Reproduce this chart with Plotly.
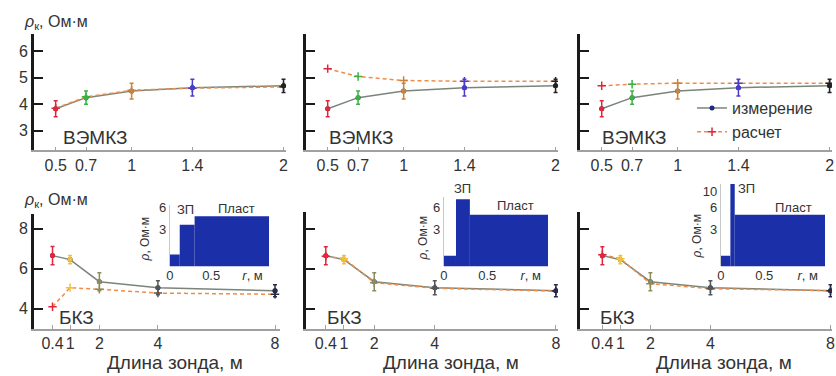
import plotly.graph_objects as go

W, H = 836, 376

# ---------------- data ----------------
top_x = [0.5, 0.7, 1, 1.4, 2]
top_ticks = ["0.5", "0.7", "1", "1.4", "2"]
top_meas = [3.83, 4.25, 4.5, 4.63, 4.7]
top_err = [0.3, 0.25, 0.3, 0.32, 0.25]
top_calc_a = [3.85, 4.28, 4.53, 4.61, 4.66]
top_calc_b = [5.35, 5.05, 4.9, 4.87, 4.87]
top_calc_c = [4.7, 4.76, 4.8, 4.8, 4.8]

bot_x = [0.4, 1, 2, 4, 8]
bot_ticks = ["0.4", "1", "2", "4", "8"]
bot_meas = [6.65, 6.45, 5.35, 5.05, 4.9]
bot_err = [0.45, 0.2, 0.45, 0.35, 0.3]
bot_calc_a = [4.1, 5.05, 4.97, 4.78, 4.72]
bot_calc_b = [6.62, 6.5, 5.3, 5.02, 4.88]
bot_calc_c = [6.7, 6.5, 5.25, 5.0, 4.9]

top_colors = ["#e0283c", "#3cb043", "#c8843c", "#4a3cc8", "#222222"]
bot_colors = ["#e0283c", "#f0c040", "#8c8c5c", "#555555", "#2a2a44"]

# inset resistivity profiles: radial edges (m) and resistivity (Ohm*m)
inset_edges = [[0, 0.12, 0.3, 1.2], [0, 0.14, 0.3, 1.2], [0, 0.11, 0.16, 1.2]]
inset_rho = [[1.35, 3.5, 4.6], [1.3, 7.9, 4.8], [1.3, 15, 4.8]]
inset_yticks = [[3, 6], [3, 6], [3, 6, 10]]

FONT = "Liberation Sans, Arial, sans-serif"
TXT = "#333333"
MEAS_LINE = "#7a857a"
CALC_LINE = "#f08c48"
BAR = "#1b2fa8"


def px(x):
    return x / W


def py(y):
    return 1 - y / H


fig = go.Figure()

# panel geometry (pixels): (left, right, top, bottom)
panels = [
    (30, 284, 30, 148), (304, 558, 30, 148), (580, 834, 30, 148),
    (30, 278, 212, 328), (304, 558, 210, 328), (580, 834, 210, 328),
]
xranges = [[0.356, 2.016]] * 3 + [[-0.24, 8.17], [-0.26, 8.07], [-0.35, 8.05]]
yranges = [[2.25, 6.675], [2.25, 6.675], [2.25, 6.675],
           [3.012, 8.74], [3.012, 8.84], [3.012, 8.84]]

calcs = [top_calc_a, top_calc_b, top_calc_c, bot_calc_a, bot_calc_b, bot_calc_c]

for i in range(6):
    ax = "" if i == 0 else str(i + 1)
    xa, ya = "x" + ax, "y" + ax
    top = i < 3
    xs = top_x if top else bot_x
    meas = top_meas if top else bot_meas
    err = top_err if top else bot_err
    cols = top_colors if top else bot_colors
    calc = calcs[i]
    legend = (i == 2)
    fig.add_trace(go.Scatter(x=xs, y=meas, xaxis=xa, yaxis=ya, mode="lines+markers",
                             line=dict(color=MEAS_LINE, width=1.5),
                             marker=dict(color="#1a2a80", size=5),
                             name="измерение", showlegend=legend))
    fig.add_trace(go.Scatter(x=xs, y=calc, xaxis=xa, yaxis=ya, mode="lines+markers",
                             line=dict(color=CALC_LINE, width=1.5, dash="4px,3px"),
                             marker=dict(color=cols, size=6, symbol="cross-thin-open",
                                         line=dict(width=1.5, color=cols)),
                             name="расчет", showlegend=legend))
    for j in range(len(xs)):
        fig.add_trace(go.Scatter(x=[xs[j]], y=[meas[j]], xaxis=xa, yaxis=ya, mode="markers",
                                 marker=dict(color=cols[j], size=5),
                                 error_y=dict(type="data", array=[err[j]], color=cols[j],
                                              thickness=1.5, width=2),
                                 showlegend=False, hoverinfo="skip"))

    l, r, t, b = panels[i]
    lay_x = dict(domain=[px(l), px(r)], range=xranges[i], anchor=ya,
                 showline=True, linecolor="#a0a0a0", linewidth=1.5,
                 ticks="inside", ticklen=4, tickcolor="#a0a0a0", tickwidth=1,
                 tickvals=xs, ticktext=top_ticks if top else bot_ticks, tickangle=0,
                 tickfont=dict(family=FONT, size=16, color=TXT),
                 showgrid=False, zeroline=False, fixedrange=True)
    yt = [3, 4, 5, 6] if top else [4, 6, 8]
    lay_y = dict(domain=[py(b), py(t)], range=yranges[i], anchor=xa,
                 showline=True, linecolor="#1a1a1a", linewidth=2.5,
                 ticks="inside", ticklen=9, tickcolor="#1a1a1a", tickwidth=2,
                 tickmode="array", tickvals=yt, ticktext=[str(v) for v in yt],
                 showticklabels=(i % 3 == 0),
                 tickfont=dict(family=FONT, size=16, color=TXT),
                 showgrid=False, zeroline=False, fixedrange=True)
    fig.update_layout(**{"xaxis" + ax: lay_x, "yaxis" + ax: lay_y})

# insets
inset_geom = [(167, 267, 203, 265), (443, 548, 195, 265), (722, 827, 182, 265)]
for k in range(3):
    n = 7 + k
    xa, ya = "x%d" % n, "y%d" % n
    e = inset_edges[k]
    mids = [(e[m] + e[m + 1]) / 2 for m in range(len(e) - 1)]
    wids = [e[m + 1] - e[m] for m in range(len(e) - 1)]
    fig.add_trace(go.Bar(x=mids, y=inset_rho[k], width=wids, xaxis=xa, yaxis=ya,
                         marker=dict(color=BAR, line=dict(width=0)), showlegend=False))
    l, r, t, b = inset_geom[k]
    top_log = 0.477 + (228 - t) / 73.0
    fig.update_layout(**{
        "xaxis%d" % n: dict(domain=[px(l), px(r)], range=[0, 1.2], anchor=ya,
                            tickvals=[0, 0.5, 1], ticktext=["0", "0.5", "<i>r</i>, м"],
                            ticks="", showline=False, showgrid=False, zeroline=False,
                            tickfont=dict(family=FONT, size=13, color=TXT), tickangle=0),
        "yaxis%d" % n: dict(domain=[py(b), py(t)], type="log", range=[-0.03, top_log],
                            anchor=xa, tickvals=inset_yticks[k],
                            ticktext=[str(v) for v in inset_yticks[k]],
                            ticks="", showline=True, linecolor="#c8c8c8", linewidth=1,
                            showgrid=False, zeroline=False,
                            tickfont=dict(family=FONT, size=13, color=TXT)),
    })

ann = []


def add_text(text, x, y, size, angle=0, color=TXT):
    ann.append(dict(text=text, x=px(x), y=py(y), xref="paper", yref="paper",
                    showarrow=False, xanchor="center", yanchor="middle",
                    textangle=angle, font=dict(family=FONT, size=size, color=color)))


for cx in (92, 360, 635):
    add_text("ВЭМКЗ", cx, 135, 19)
for cx in (73, 343, 618):
    add_text("БКЗ", cx, 317, 19)
for cx in (172, 450, 725):
    add_text("Длина зонда, м", cx, 362, 19)
add_text("<i>ρ</i><sub>к</sub>, Ом·м", 52, 19, 16)
add_text("<i>ρ</i><sub>к</sub>, Ом·м", 52, 199, 16)
# inset labels
for (cx, cy) in ((142, 238), (423, 237), (698, 235)):
    add_text("<i>ρ</i>, Ом·м", cx, cy, 12, angle=-90)
for (cx, cy) in ((183, 208), (462, 186), (748, 186)):
    add_text("ЗП", cx, cy, 13)
for (cx, cy) in ((234, 207), (515, 204), (795, 206)):
    add_text("Пласт", cx, cy, 13)

fig.update_layout(
    width=W, height=H, margin=dict(l=0, r=0, t=0, b=0),
    paper_bgcolor="white", plot_bgcolor="rgba(0,0,0,0)",
    annotations=ann, barmode="overlay",
    showlegend=True,
    legend=dict(x=px(693), y=py(88), xanchor="left", yanchor="top",
                bgcolor="rgba(0,0,0,0)", font=dict(family=FONT, size=16, color=TXT),
                itemwidth=30, tracegroupgap=0),
    font=dict(family=FONT, color=TXT),
)

fig.write_html("out.html")
